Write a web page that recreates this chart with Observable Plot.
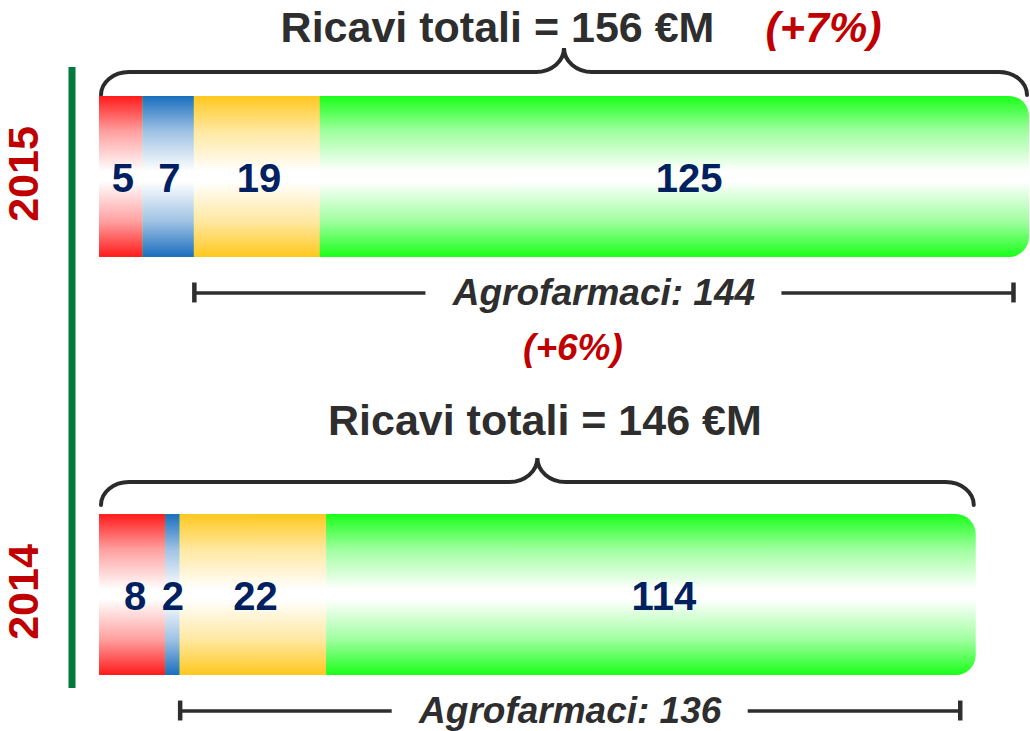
<!DOCTYPE html>
<html>
<head>
<meta charset="utf-8">
<script src="https://cdn.jsdelivr.net/npm/d3@7"></script>
<script src="https://cdn.jsdelivr.net/npm/@observablehq/plot@0.6"></script>
<style>
  html, body { margin: 0; padding: 0; background: #fff; }
</style>
</head>
<body>
<div id="chart"></div>
<script>
// ---------- data ----------
const years = ["2015", "2014"];
const categories = ["Segmento A", "Segmento B", "Agrofarmaci 1", "Agrofarmaci 2"];
const values2015 = [5, 7, 19, 125];
const values2014 = [8, 2, 22, 114];
const totals = [156, 146];
const agrofarmaci = [144, 136];
const titleLabels = ["Ricavi totali = 156 €M", "Ricavi totali = 146 €M"];
const agroLabels = ["Agrofarmaci: 144", "Agrofarmaci: 136"];
const growthTotal = "(+7%)";
const growthAgro = "(+6%)";

const valuesByYear = [values2015, values2014];
const segments = years.flatMap((year, i) =>
  valuesByYear[i].map((value, j) => ({year, cat: categories[j], value})));

// ---------- scales ----------
const W = 1030, H = 731;
const xOptions = {type: "pow", exponent: 0.89, domain: [0, 156], range: [99, 1029]};
const yOptions = {type: "band", domain: years, range: [96, 675], paddingInner: 0.615, paddingOuter: 0, align: 0.5, round: false};
const xs = Plot.scale({x: xOptions});
const px = v => xs.apply(v);
const inv = p => xs.invert(p);

const GAP = 178;      // half gap around the "Agrofarmaci" label (px)
const CAP_IN = 16;    // inset of right cap from bar end (px)

const rows = years.map((year, i) => {
  const vals = valuesByYear[i];
  const agroStart = vals[0] + vals[1];
  const L = px(agroStart), R = px(totals[i]) - CAP_IN, M = (L + R) / 2;
  return {
    year,
    total: totals[i],
    agroStart,
    agroEnd: inv(R),
    agroMid: inv(M),
    gapL: inv(M - GAP),
    gapR: inv(M + GAP),
    barMid: inv((px(0) + px(totals[i])) / 2),
    title: titleLabels[i],
    agroLabel: agroLabels[i]
  };
});

// ---------- decorations: gradients + braces ----------
const gradients = [["gRed", "#ff1a1a"], ["gBlue", "#1a6ebe"], ["gYellow", "#ffc81e"], ["gGreen", "#1aff1a"]];
const braceGap = {"2015": 1, "2014": 9};

function decorations(index, scales) {
  const {x, y} = scales;
  const g = d3.create("svg:g");
  const defs = g.append("defs");
  for (const [id, c] of gradients) {
    const lg = defs.append("linearGradient").attr("id", id)
      .attr("x1", 0).attr("y1", 0).attr("x2", 0).attr("y2", 1);
    const mid = d3.interpolateRgb(c, "#ffffff")(0.58);
    [[0, c], [0.22, mid], [0.47, "#ffffff"], [0.53, "#ffffff"], [0.78, mid], [1, c]].forEach(([o, col]) =>
      lg.append("stop").attr("offset", o).attr("stop-color", col));
  }
  rows.forEach(r => {
    const xa = x(0) + 2, xb = x(r.total) - 2, xc = (xa + xb) / 2;
    const yEnd = y(r.year) - braceGap[r.year], yl = yEnd - 23, yp = yl - 24;
    const rx = 28, ry = 23, cw = 28, ch = 24;
    const d = `M${xa},${yEnd} A${rx},${ry} 0 0 1 ${xa + rx},${yl} H${xc - cw} A${cw},${ch} 0 0 0 ${xc},${yp} A${cw},${ch} 0 0 0 ${xc + cw},${yl} H${xb - rx} A${rx},${ry} 0 0 1 ${xb},${yEnd}`;
    g.append("path").attr("d", d).attr("fill", "none")
      .attr("stroke", "#2b2b2b").attr("stroke-width", 4).attr("stroke-linecap", "round");
  });
  return g.node();
}

const font = "'Liberation Sans', Arial, Helvetica, sans-serif";
const dark = "#2e2e2e";
const red = "#c00000";
const navy = "#002060";

const r2015 = rows.filter(r => r.year === "2015");
const r2014 = rows.filter(r => r.year === "2014");

const chart = Plot.plot({
  width: W,
  height: H,
  marginLeft: 99,
  marginRight: 1,
  marginTop: 96,
  marginBottom: 56,
  style: {fontFamily: font, background: "#fff"},
  x: {...xOptions, axis: null},
  y: {...yOptions, axis: null},
  color: {type: "ordinal", domain: categories, range: ["url(#gRed)", "url(#gBlue)", "url(#gYellow)", "none"]},
  marks: [
    decorations,
    // full green rounded bar underneath
    Plot.barX(rows, {x1: 0, x2: "total", y: "year", fill: "url(#gGreen)", rx: 20}),
    // stacked segments
    Plot.barX(segments, Plot.stackX({x: "value", y: "year", fill: "cat"})),
    // segment labels
    Plot.text(segments, Plot.stackX({x: "value", y: "year", z: "cat", text: d => `${d.value}`,
      fill: navy, fontSize: 40, fontWeight: "bold", dy: 2})),
    // agrofarmaci range
    Plot.ruleY(rows, {x1: "agroStart", x2: "gapL", y: "year", dy: 116, stroke: dark, strokeWidth: 3.5}),
    Plot.ruleY(rows, {x1: "gapR", x2: "agroEnd", y: "year", dy: 116, stroke: dark, strokeWidth: 3.5}),
    Plot.tickX(rows, {x: "agroStart", y: "year", insetTop: 70.5, insetBottom: 70.5, dy: 116, stroke: dark, strokeWidth: 4.5}),
    Plot.tickX(rows, {x: "agroEnd", y: "year", insetTop: 70.5, insetBottom: 70.5, dy: 116, stroke: dark, strokeWidth: 4.5}),
    Plot.text(rows, {x: "agroMid", y: "year", text: "agroLabel", dy: 116, fill: dark,
      fontSize: 37, fontWeight: "bold", fontStyle: "italic"}),
    // titles
    Plot.text(r2015, {x: "barMid", y: "year", text: "title", dx: -67, dy: -149, fill: dark, fontSize: 43, fontWeight: "bold"}),
    Plot.text(r2014, {x: "barMid", y: "year", text: "title", dx: 7, dy: -174, fill: dark, fontSize: 43, fontWeight: "bold"}),
    // growth
    Plot.text(r2015, {x: "barMid", y: "year", text: () => growthTotal, dx: 259, dy: -149, fill: red, fontSize: 43, fontWeight: "bold", fontStyle: "italic"}),
    Plot.text(r2015, {x: "agroMid", y: "year", text: () => growthAgro, dx: -31, dy: 171, fill: red, fontSize: 37, fontWeight: "bold", fontStyle: "italic"}),
    // year labels
    Plot.text(years, {y: d => d, text: d => d, frameAnchor: "left", textAnchor: "middle", dx: -75, dy: -3,
      rotate: -90, fill: red, fontSize: 43, fontWeight: "bold"}),
    // green vertical line
    Plot.ruleX([0], {x: d => d, dx: -27.5, insetTop: -29, insetBottom: -13, stroke: "#007a3d", strokeWidth: 7})
  ]
});

document.getElementById("chart").appendChild(chart);
</script>
</body>
</html>
